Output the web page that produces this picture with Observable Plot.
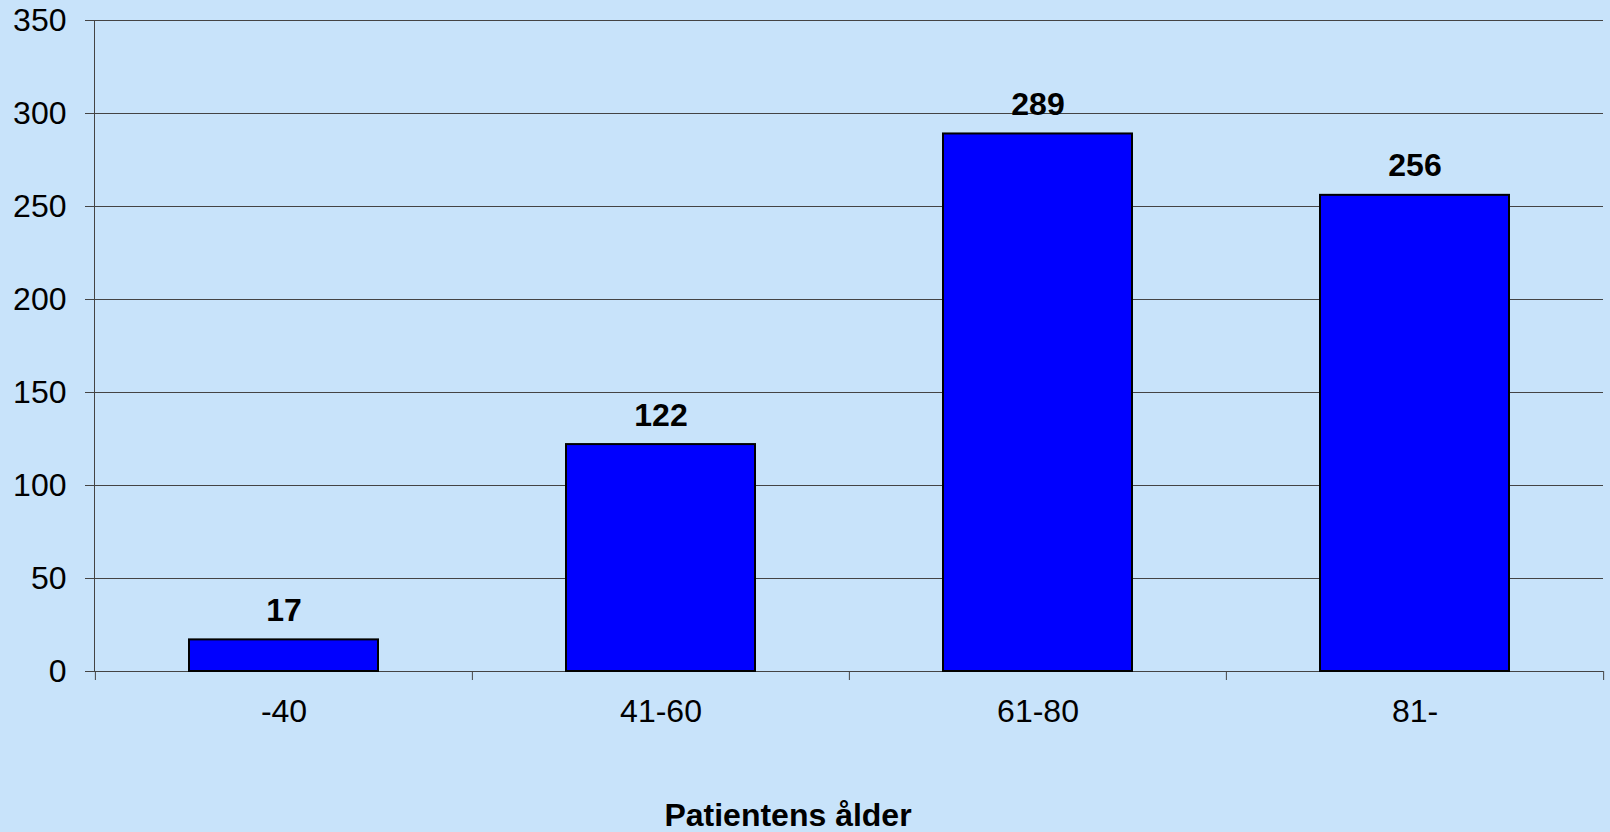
<!DOCTYPE html>
<html><head><meta charset="utf-8">
<script src="https://cdn.jsdelivr.net/npm/d3@7"></script>
<script src="https://cdn.jsdelivr.net/npm/@observablehq/plot@0.6"></script>
<style>html,body{margin:0;padding:0;background:#C8E3FA;overflow:hidden}</style>
</head><body><div id="chart"></div>
<script>
const categories = ["-40", "41-60", "61-80", "81-"];
const values = [17, 122, 289, 256];
const yTicks = [0, 50, 100, 150, 200, 250, 300, 350];
const titleText = "Patientens ålder";

const data = categories.map((c, i) => ({category: c, value: values[i]}));
const W = 1610, H = 832, mL = 94, mR = 7, mT = 20, mB = 161;
const step = (W - mL - mR) / categories.length;
const font = "'Liberation Sans', Arial, Helvetica, sans-serif";
const lineColor = "#444";
const fs = 32;

const chart = Plot.plot({
  width: W, height: H,
  marginLeft: mL, marginRight: mR, marginTop: mT, marginBottom: mB,
  style: {background: "#C8E3FA", fontFamily: font, fontSize: fs + "px", color: "#000", overflow: "visible"},
  x: {domain: categories, paddingInner: 0.5, paddingOuter: 0.25},
  y: {domain: [0, 350]},
  marks: [
    Plot.gridY(yTicks, {stroke: lineColor, strokeOpacity: 1, strokeWidth: 1}),
    Plot.frame({anchor: "left", stroke: lineColor}),
    Plot.axisY(yTicks, {tickSize: 9, tickPadding: 19, stroke: lineColor, fill: "#000", fontSize: fs, label: null}),
    Plot.axisX({tickSize: 0, tickPadding: 28, fontSize: fs, fill: "#000", label: null}),
    Plot.axisX(categories, {tickSize: 9, tickFormat: () => "", dx: -step / 2, stroke: lineColor, label: null}),
    Plot.axisX([categories[categories.length - 1]], {tickSize: 9, tickFormat: () => "", dx: step / 2, stroke: lineColor, label: null}),
    Plot.barY(data, {x: "category", y: "value", fill: "#0000FF", stroke: "#000", strokeWidth: 2}),
    Plot.text(data, {x: "category", y: "value", text: d => String(d.value), lineAnchor: "bottom", dy: -19, fontSize: fs, fontWeight: "bold", fill: "#000"}),
    Plot.text([titleText], {frameAnchor: "bottom", lineAnchor: "bottom", dy: 154, dx: -61, fontSize: fs, fontWeight: "bold", fill: "#000"})
  ]
});
document.getElementById("chart").appendChild(chart);
</script>
</body></html>
